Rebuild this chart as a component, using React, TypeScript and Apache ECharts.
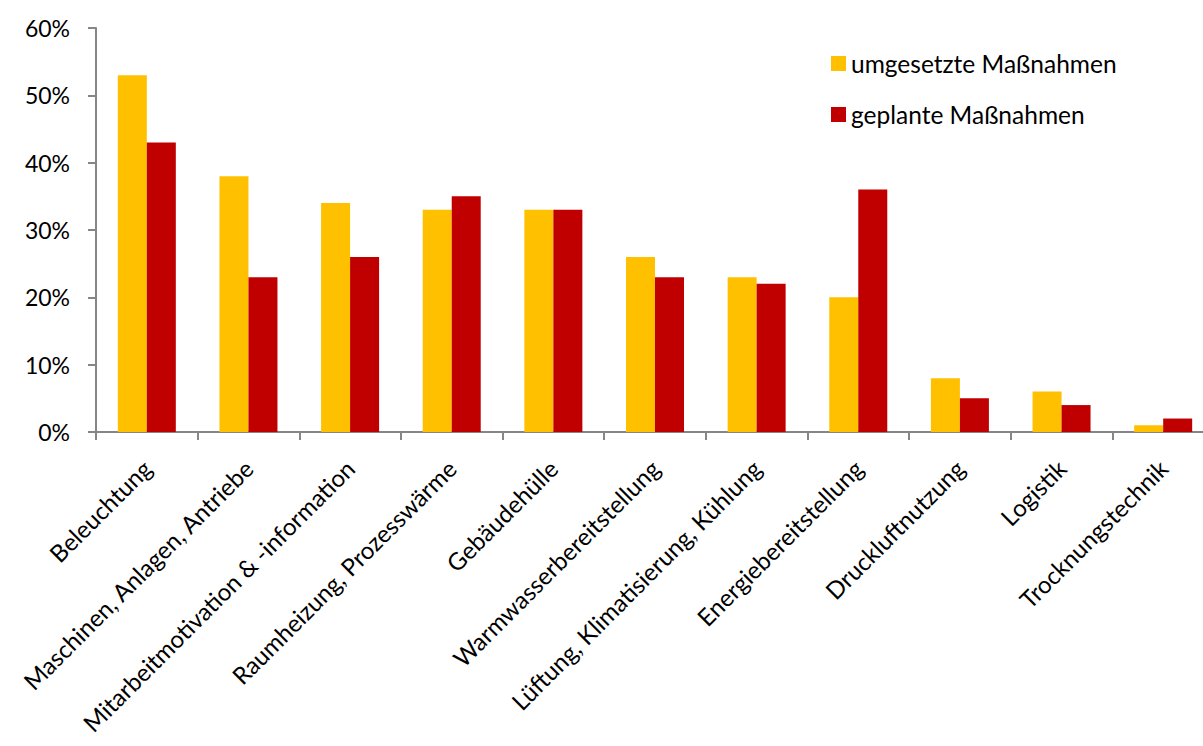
import React, { useEffect, useRef } from "react";
import * as echarts from "echarts";

const categories = [
  "Beleuchtung",
  "Maschinen, Anlagen, Antriebe",
  "Mitarbeitmotivation & -information",
  "Raumheizung, Prozesswärme",
  "Gebäudehülle",
  "Warmwasserbereitstellung",
  "Lüftung, Klimatisierung, Kühlung",
  "Energiebereitstellung",
  "Druckluftnutzung",
  "Logistik",
  "Trocknungstechnik",
];
const umgesetzt = [53, 38, 34, 33, 33, 26, 23, 20, 8, 6, 1];
const geplant = [43, 23, 26, 35, 33, 23, 22, 36, 5, 4, 2];
const seriesNames = ["umgesetzte Maßnahmen", "geplante Maßnahmen"];

const FONT = "Lato, 'Open Sans', sans-serif";

export default function App() {
  const ref = useRef<HTMLDivElement>(null);
  useEffect(() => {
    document.body.style.margin = "0";
    const chart = echarts.init(ref.current!, null, { renderer: "svg" });
    chart.setOption({
      animation: false,
      backgroundColor: "#ffffff",
      textStyle: { fontFamily: FONT },
      legend: {
        orient: "vertical",
        left: 831,
        top: 51,
        padding: 0,
        itemWidth: 15,
        itemHeight: 15,
        itemGap: 26,
        icon: "rect",
        textStyle: { fontSize: 24.5, color: "#000", fontFamily: FONT, lineHeight: 24 },
        data: seriesNames,
      },
      grid: {
        left: 96,
        top: 28,
        width: 1118,
        height: 404,
        containLabel: false,
        outerBoundsMode: "none",
      },
      xAxis: {
        type: "category",
        data: categories,
        axisLine: { lineStyle: { color: "#868686", width: 2 } },
        axisTick: { show: true, length: 8, lineStyle: { color: "#868686", width: 2 } },
        axisLabel: { rotate: 45, interval: 0, fontSize: 24, color: "#000", margin: 32, fontFamily: FONT },
      },
      yAxis: {
        type: "value",
        min: 0,
        max: 60,
        interval: 10,
        splitLine: { show: false },
        axisLine: { show: true, lineStyle: { color: "#868686", width: 2 } },
        axisTick: { show: true, length: 8, lineStyle: { color: "#868686", width: 2 } },
        axisLabel: { formatter: "{value}%", fontSize: 23, color: "#000", margin: 26, fontFamily: FONT },
      },
      series: [
        {
          name: seriesNames[0],
          type: "bar",
          data: umgesetzt,
          barWidth: 29,
          barGap: "0%",
          itemStyle: { color: "#FFC000" },
        },
        {
          name: seriesNames[1],
          type: "bar",
          data: geplant,
          barWidth: 29,
          barGap: "0%",
          itemStyle: { color: "#C00000" },
        },
      ],
    });
    return () => chart.dispose();
  }, []);
  return <div ref={ref} style={{ width: 1203, height: 746 }} />;
}
